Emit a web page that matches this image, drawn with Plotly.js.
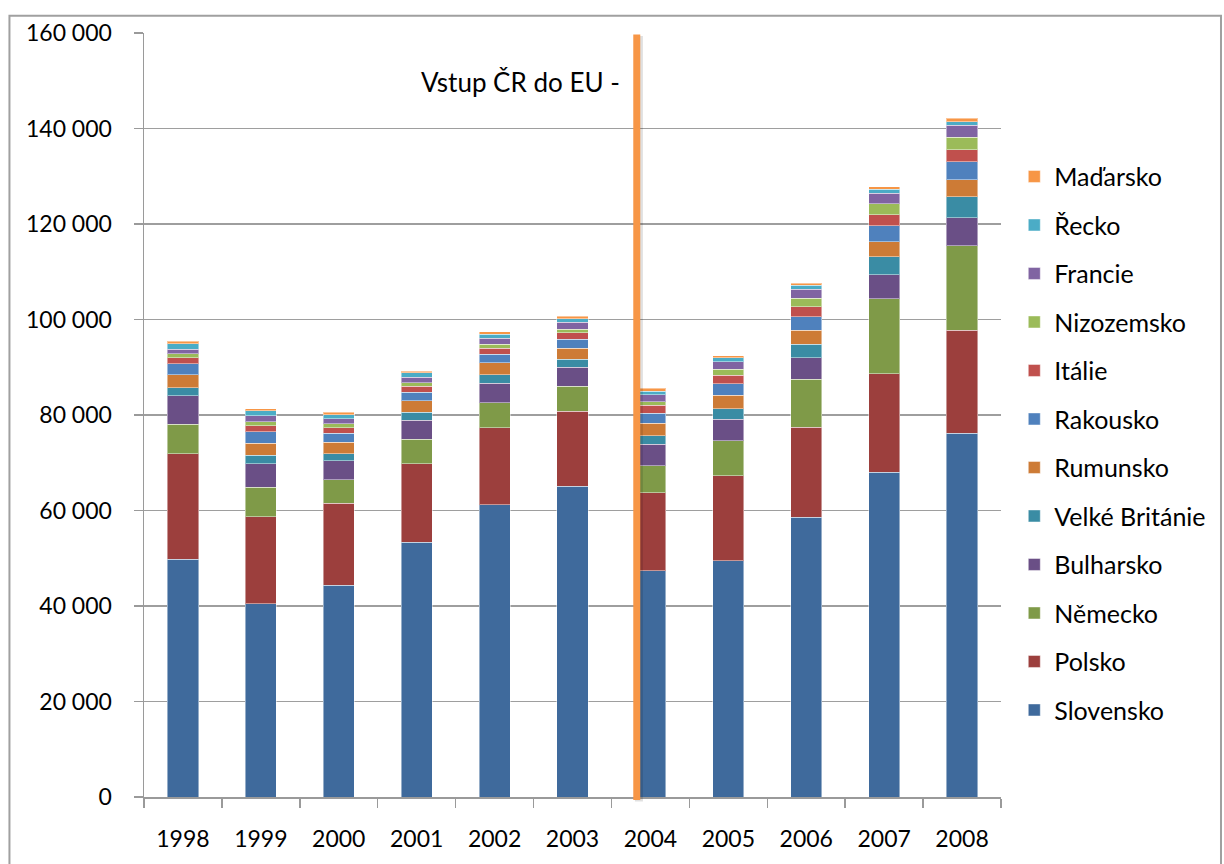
<!DOCTYPE html>
<html>
<head>
<meta charset="utf-8">
<script src="https://cdn.plot.ly/plotly-3.0.1.min.js"></script>
<style>
html,body{margin:0;padding:0;background:#fff;}
#chart{width:1224px;height:864px;}
</style>
</head>
<body>
<div id="chart"></div>
<script>
var years = ['1998','1999','2000','2001','2002','2003','2004','2005','2006','2007','2008'];

var slovensko   = [49800, 40500, 44300, 53400, 61200, 65100, 47400, 49500, 58600, 68000, 76200];
var polsko      = [22100, 18200, 17200, 16400, 16100, 15700, 16300, 17800, 18800, 20600, 21600];
var nemecko     = [6200, 6200, 4900, 5100, 5300, 5200, 5700, 7300, 10100, 15700, 17600];
var bulharsko   = [5900, 4900, 4000, 4000, 4100, 4000, 4500, 4500, 4500, 5100, 5900];
var velkaBrit   = [1760, 1760, 1470, 1700, 1700, 1700, 1800, 2200, 2800, 3700, 4400];
var rumunsko    = [2700, 2500, 2400, 2400, 2500, 2300, 2600, 2800, 2900, 3200, 3600];
var rakousko    = [2300, 2400, 1900, 1800, 1800, 1900, 2100, 2450, 2900, 3350, 3700];
var italie      = [1260, 1300, 1200, 1200, 1300, 1300, 1600, 1800, 2100, 2300, 2500];
var nizozemsko  = [840, 840, 800, 800, 800, 800, 800, 1200, 1800, 2300, 2700];
var francie     = [960, 1200, 1000, 1100, 1300, 1400, 1400, 1600, 1800, 2200, 2450];
var recko       = [1130, 1100, 900, 900, 800, 750, 800, 800, 900, 800, 800];
var madarsko    = [500, 400, 500, 400, 500, 500, 600, 500, 400, 500, 700];

var seriesNames = ['Slovensko','Polsko','Německo','Bulharsko','Velké Británie','Rumunsko','Rakousko','Itálie','Nizozemsko','Francie','Řecko','Maďarsko'];
var seriesValues = [slovensko, polsko, nemecko, bulharsko, velkaBrit, rumunsko, rakousko, italie, nizozemsko, francie, recko, madarsko];
var seriesColors = ['#3F6A9C','#9C3F3D','#7F9A48','#6A4F86','#3A8CA4','#CD7B36','#4F81BD','#C0504D','#9BBB59','#8064A2','#4BACC6','#F79646'];

var annotationText = 'Vstup ČR do EU -';

var FONT = 'Lato, "Noto Sans", sans-serif';

var traces = seriesNames.map(function(n, i){
  return {
    type: 'bar',
    name: n,
    x: years,
    y: seriesValues[i],
    legendgroup: 'g' + i,
    legendrank: 100 - i,
    marker: {color: seriesColors[i], line: {color: 'rgba(255,255,255,0.45)', width: 1}},
    hoverinfo: 'name+y'
  };
});

// plot area: x 144..1001, y 33..797
var layout = {
  width: 1224, height: 864,
  margin: {l: 144, r: 223, t: 33, b: 67, autoexpand: false},
  barmode: 'stack',
  bargap: 0.6,
  separators: ', ',
  paper_bgcolor: '#ffffff',
  plot_bgcolor: '#ffffff',
  font: {family: FONT, size: 23, color: '#000000'},
  showlegend: true,
  legend: {
    x: 1.0155, xanchor: 'left',
    y: 0.842, yanchor: 'top',
    traceorder: 'grouped',
    tracegroupgap: 13,
    font: {family: FONT, size: 25, color: '#000'},
    bgcolor: 'rgba(0,0,0,0)',
    borderwidth: 0
  },
  xaxis: {
    type: 'category',
    showgrid: false,
    showline: true, linecolor: '#9a9a9a', linewidth: 1.5,
    ticks: 'outside', tickson: 'boundaries', ticklen: 9, tickcolor: '#9a9a9a', tickwidth: 1.5,
    ticklabelstandoff: 21,
    tickfont: {family: FONT, size: 23, color: '#000'},
    zeroline: false
  },
  yaxis: {
    range: [0, 160000],
    dtick: 20000, tick0: 0,
    tickformat: ',d',
    showgrid: true, gridcolor: '#9e9e9e', gridwidth: 1.5,
    showline: true, linecolor: '#9a9a9a', linewidth: 1.5,
    ticks: 'outside', ticklen: 9, tickcolor: '#9a9a9a', tickwidth: 1.5,
    ticklabelstandoff: 17,
    tickfont: {family: FONT, size: 23, color: '#000'},
    zeroline: false
  },
  shapes: [
    {type: 'rect', xref: 'paper', yref: 'paper', x0: -0.157, x1: 1.2567, y0: -0.12, y1: 1.0225,
     line: {color: '#a0a0a0', width: 2}, fillcolor: 'rgba(0,0,0,0)', layer: 'below'},
    {type: 'line', xref: 'paper', yref: 'paper', x0: 0.5775, x1: 0.5775, y0: -0.006, y1: 0.996,
     line: {color: 'rgba(0,0,0,0.12)', width: 8}},
    {type: 'line', xref: 'paper', yref: 'paper', x0: 0.575, x1: 0.575, y0: -0.004, y1: 0.998,
     line: {color: '#F79646', width: 7}}
  ],
  annotations: [
    {xref: 'paper', yref: 'paper', x: 0.558, y: (797-82)/764, xanchor: 'right', yanchor: 'middle',
     text: annotationText, showarrow: false, font: {family: FONT, size: 26, color: '#000'}}
  ]
};

Plotly.newPlot('chart', traces, layout, {displayModeBar: false, staticPlot: true});
</script>
</body>
</html>
